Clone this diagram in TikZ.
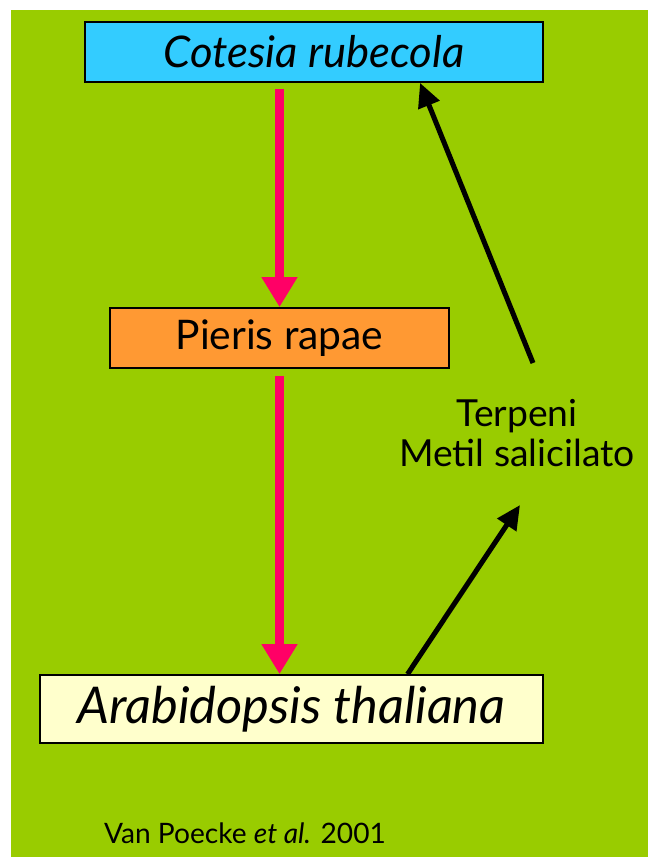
\documentclass[tikz,border=0pt]{standalone}
\usepackage{fontspec}
\setmainfont{Lato}
\usepackage{tikz}
\usetikzlibrary{arrows.meta}
\definecolor{VPGreen}{HTML}{99CC00}
\definecolor{VPCyan}{HTML}{33CCFF}
\definecolor{VPOrange}{HTML}{FF9933}
\definecolor{VPCream}{HTML}{FFFFCC}
\definecolor{VPPink}{HTML}{FF0066}

\tikzset{
  specbox/.style={draw=black,line width=1.2pt,inner sep=0pt,minimum height=1.5cm},
  pinkarrow/.style={VPPink,line width=6.4pt,-{Triangle[length=0.75cm,width=0.85cm]}},
  blackarrow/.style={black,line width=3.6pt,-{Triangle[length=0.6cm,width=0.55cm]}}
}

\begin{document}
\begin{tikzpicture}[x=0.025cm,y=-0.025cm]
\path[use as bounding box] (0,0) rectangle (648,857);
\fill[white] (0,0) rectangle (648,857);
\fill[VPGreen] (11,10) rectangle (648,857);
% the three species
\node[specbox,fill=VPCyan,minimum width=11.45cm] (cotesia) at (314,52)
  {\fontsize{31}{34}\selectfont\itshape Cotesia rubecola};
\node[specbox,fill=VPOrange,minimum width=8.475cm] (pieris) at (279.5,338)
  {\fontsize{29}{32}\selectfont Pieris rapae};
\node[specbox,fill=VPCream,minimum width=12.575cm,minimum height=1.7cm] (arabid) at (291.5,709)
  {\fontsize{36}{40}\selectfont\itshape Arabidopsis thaliana};
% volatiles and reference
\node[align=center,font=\fontsize{26.5}{28.5}\selectfont] (volat) at (517,433) {Terpeni\\Metil salicilato};
\node[font=\fontsize{20}{24}\selectfont] (ref) at (245,833) {Van Poecke \textit{et al.} 2001};
\coordinate (volup) at (533,363);
\coordinate (voldown) at (520,505);
% trophic links
\draw[pinkarrow,shorten <=0.15cm] (cotesia.south -| pieris.north) -- (pieris.north);
\draw[pinkarrow,shorten <=0.175cm] (pieris.south) -- (arabid.north -| pieris.south);
\draw[blackarrow] ([xshift=2.9cm]arabid.north) -- (voldown);
\draw[blackarrow] (volup) -- ([xshift=2.65cm]cotesia.south);
\end{tikzpicture}
\end{document}
